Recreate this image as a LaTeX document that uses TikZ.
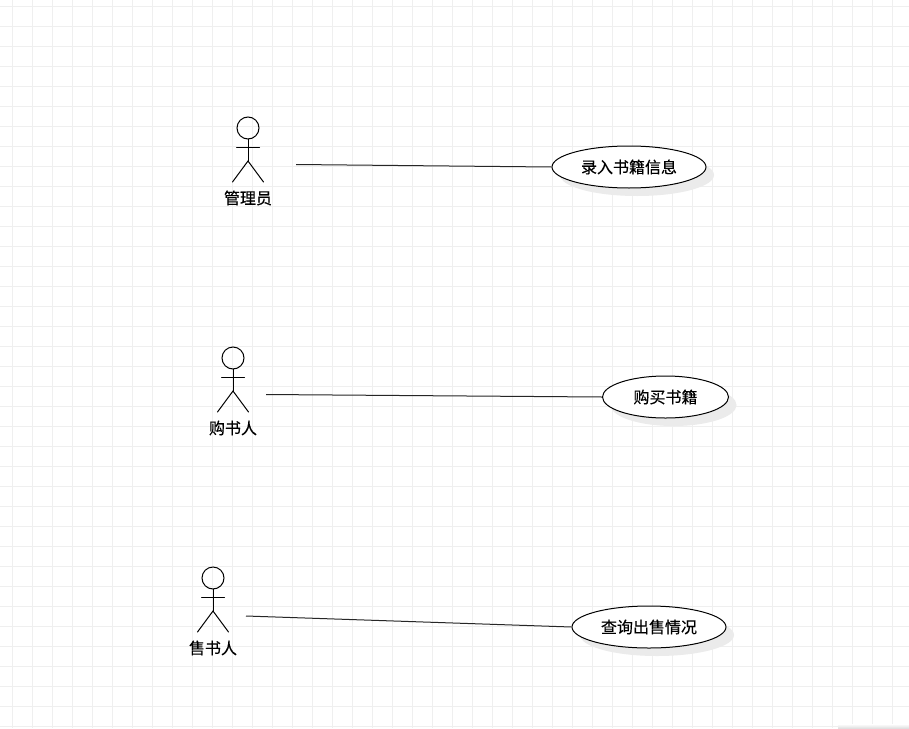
\documentclass[tikz,border=0pt]{standalone}
\usepackage{fontspec}
\newfontfamily\cjk[FakeBold=0.35]{Noto Sans CJK SC}
\usetikzlibrary{shapes.geometric,shadows}
\definecolor{gridc}{HTML}{EFEFEF}
\definecolor{shadowc}{HTML}{EBEBEB}
\tikzset{
  x=1pt,y=-1pt,
  gridline/.style={gridc,line width=1pt},
  stick/.style={black,line width=1pt,line cap=round},
  assoc/.style={black!85,line width=1pt},
  usecase/.style={ellipse,draw=black,line width=1pt,fill=white,inner sep=0pt,
    minimum height=42pt,font=\cjk\fontsize{16}{16}\selectfont},
  casebacking/.style={ellipse,fill=shadowc,draw=none,inner sep=0pt,minimum height=42pt},
  actorlabel/.style={font=\cjk\fontsize{16}{16}\selectfont,inner sep=0pt,text=black}
}
\newcommand{\stickman}[3]{%
  \draw[stick] (#2,#3) circle[radius=11];
  \draw[stick] (#2,#3+11) -- (#2,#3+33);
  \draw[stick] (#2-11.5,#3+19) -- (#2+11.5,#3+19);
  \draw[stick] (#2-15.5,#3+54) -- (#2,#3+33) -- (#2+15.5,#3+54);
}
\begin{document}
\begin{tikzpicture}
\useasboundingbox (0,0) rectangle (909,728);
\fill[white] (0,0) rectangle (909,728);
\foreach \g in {0,...,44} {\draw[gridline] (12.5+20*\g,0) -- (12.5+20*\g,728);}
\foreach \g in {0,...,36} {\draw[gridline] (0,6.5+20*\g) -- (909,6.5+20*\g);}
\shade[top color=white,bottom color=black!12,draw=none] (838,724) rectangle (909,728);
% actors
\stickman{a}{248}{128}
\stickman{b}{233}{358}
\stickman{c}{213}{578}
\node[actorlabel] (lblA) at (248,198) {管理员};
\node[actorlabel] (lblB) at (233,428) {购书人};
\node[actorlabel] (lblC) at (213,648) {售书人};
% shadows
\node[casebacking,minimum width=154pt] at (637,175) {};
\node[casebacking,minimum width=126pt] at (673.5,405) {};
\node[casebacking,minimum width=154pt] at (657,635) {};
% use cases
\node[usecase,minimum width=154pt] (ucA) at (629,167) {录入书籍信息};
\node[usecase,minimum width=126pt] (ucB) at (665.5,397) {购买书籍};
\node[usecase,minimum width=154pt] (ucC) at (649,627) {查询出售情况};
% connectors
\coordinate (endA) at (296,164.5);
\coordinate (endB) at (266,394.5);
\coordinate (endC) at (246,616);
\draw[assoc] (endA) -- (ucA.west);
\draw[assoc] (endB) -- (ucB.west);
\draw[assoc] (endC) -- (ucC.west);
\end{tikzpicture}
\end{document}
